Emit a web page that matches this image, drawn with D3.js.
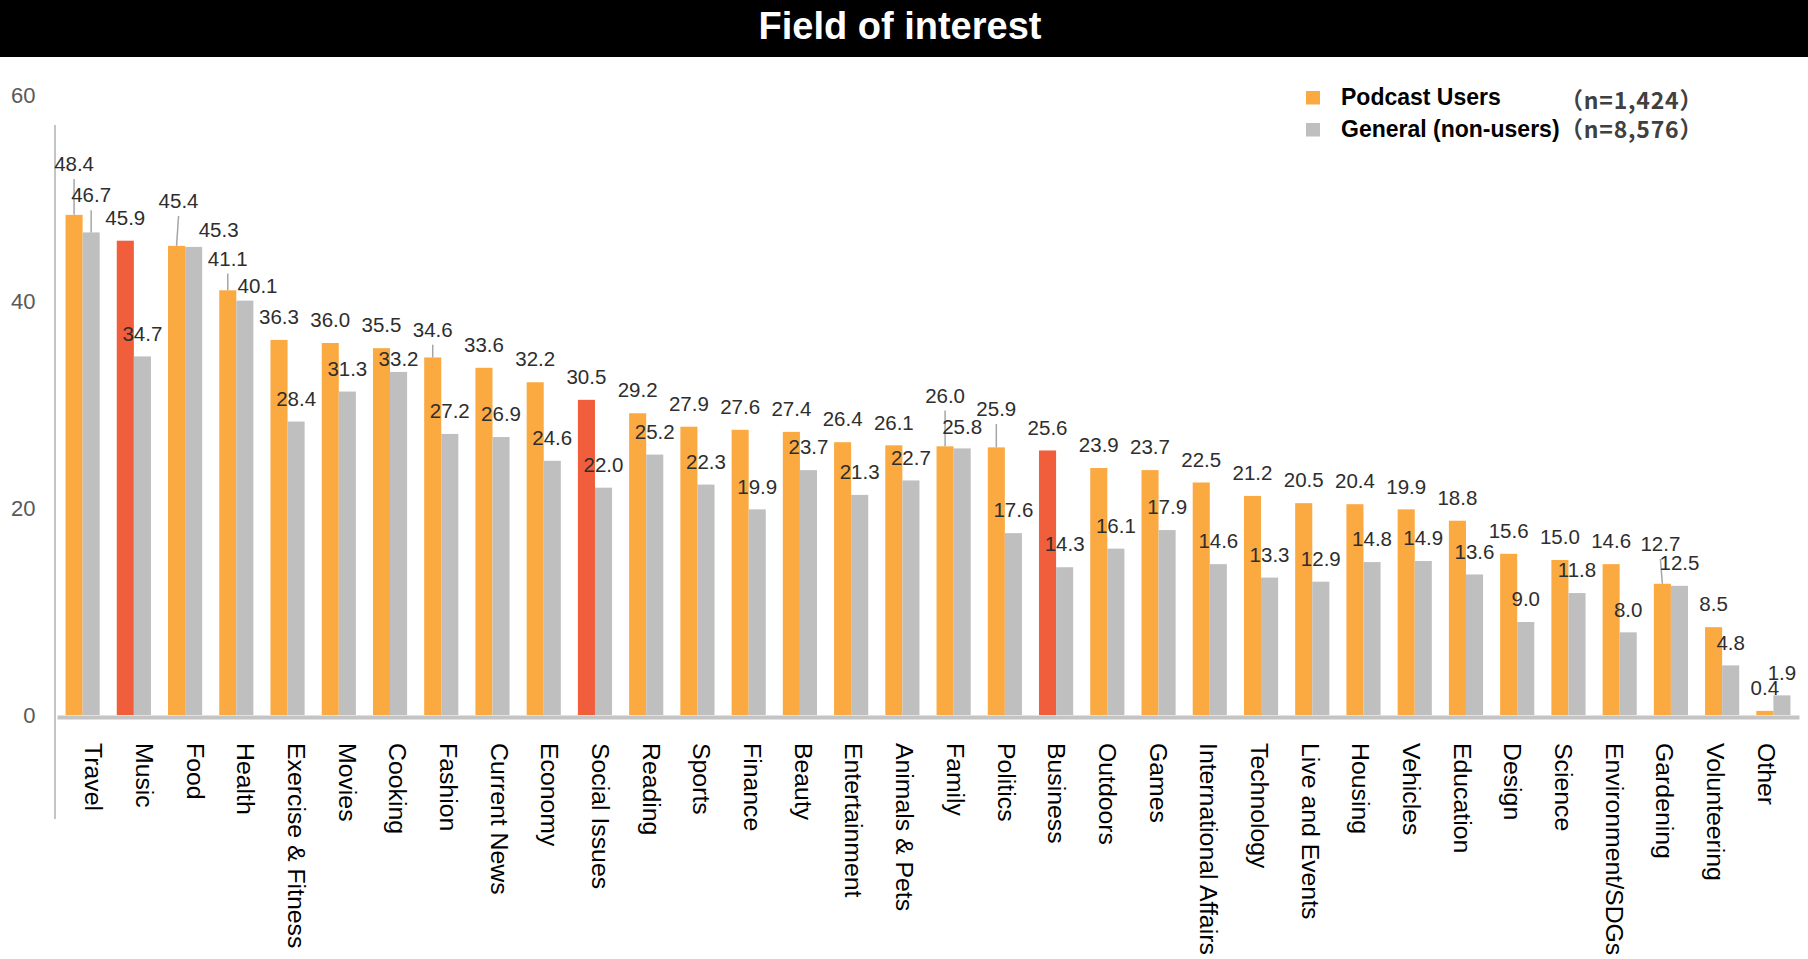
<!DOCTYPE html>
<html>
<head>
<meta charset="utf-8">
<script src="https://cdn.jsdelivr.net/npm/d3@7"></script>
<style>
  html, body { margin: 0; padding: 0; background: #fff; }
  svg { display: block; }
</style>
</head>
<body>
<svg id="chart" width="1808" height="959"></svg>
<script>
// ---------------- data ----------------
const title = "Field of interest";
const categories = ["Travel","Music","Food","Health","Exercise & Fitness","Movies","Cooking","Fashion","Current News","Economy","Social Issues","Reading","Sports","Finance","Beauty","Entertainment","Animals & Pets","Family","Politics","Business","Outdoors","Games","International Affairs","Technology","Live and Events","Housing","Vehicles","Education","Design","Science","Environment/SDGs","Gardening","Volunteering","Other"];
const podcastUsers = [48.4,45.9,45.4,41.1,36.3,36.0,35.5,34.6,33.6,32.2,30.5,29.2,27.9,27.6,27.4,26.4,26.1,26.0,25.9,25.6,23.9,23.7,22.5,21.2,20.5,20.4,19.9,18.8,15.6,15.0,14.6,12.7,8.5,0.4];
const generalUsers = [46.7,34.7,45.3,40.1,28.4,31.3,33.2,27.2,26.9,24.6,22.0,25.2,22.3,19.9,23.7,21.3,22.7,25.8,17.6,14.3,16.1,17.9,14.6,13.3,12.9,14.8,14.9,13.6,9.0,11.8,8.0,12.5,4.8,1.9];
const highlighted = ["Music","Social Issues","Business"];
const seriesNames = ["Podcast Users","General (non-users)"];
const sampleSizes = ["（n=1,424）","（n=8,576）"];
const yTicks = [0,20,40,60];

// label nudges in px: [dx, dy, leaderLine]
const podcastLabelNudge = {"Travel":[0,-28,true],"Food":[2,-22,true],"Health":[0,-9,true],"Fashion":[0,-5,true],"Family":[0,-28,true],"Politics":[0,-15.5,true],"Gardening":[-2,-17,true]};
const generalLabelNudge = {"Travel":[0,-14.5,true],"Food":[25,5.5,false],"Health":[12.7,8,false],"Cooking":[0,9.5,false],"Family":[0,1.5,false]};

// ---------------- styles ----------------
const C_ORANGE = "#FBAA42", C_RED = "#F05E3C", C_GRAY = "#BFBFBF";
const FONT = "'Liberation Sans', Arial, sans-serif";

const svg = d3.select("#chart");

// title bar
svg.append("rect").attr("x",0).attr("y",0).attr("width",1808).attr("height",57).attr("fill","#000");
svg.append("text").attr("x",900).attr("y",39).attr("text-anchor","middle")
  .attr("font-family",FONT).attr("font-weight","bold").attr("font-size",38).attr("fill","#fff").text(title);

// scales
const x = d3.scaleBand().domain(categories).range([57,1799]).paddingInner(1/3).paddingOuter(1/6);
const xs = d3.scaleBand().domain([0,1]).range([0,x.bandwidth()]);
const labelX = d3.scaleBand().domain(categories).range([69,1792]);
const y = d3.scaleLinear().domain([0,60]).range([715,95]);

// vertical axis line (decoration)
svg.append("line").attr("x1",55).attr("x2",55).attr("y1",125).attr("y2",819)
  .attr("stroke","#C4C4C4").attr("stroke-width",2);

// y axis labels
const yAxis = svg.append("g").attr("transform","translate(35.5,0)")
  .call(d3.axisLeft(y).tickValues(yTicks).tickSize(0).tickPadding(0));
yAxis.select(".domain").remove();
yAxis.selectAll("text").attr("font-family",FONT).attr("font-size",22).attr("fill","#595959");

// bars
const series = [podcastUsers, generalUsers];
const groups = svg.append("g").selectAll("g").data(categories).join("g")
  .attr("transform", d => `translate(${x(d)},0)`);
groups.selectAll("rect").data((d,i) => series.map((s,k) => ({cat:d, k, v:s[i]}))).join("rect")
  .attr("x", d => xs(d.k)).attr("width", xs.bandwidth())
  .attr("y", d => y(d.v)).attr("height", d => y(0) - y(d.v))
  .attr("fill", d => d.k === 1 ? C_GRAY : (highlighted.includes(d.cat) ? C_RED : C_ORANGE));

// baseline
const xAxis = svg.append("g").attr("transform",`translate(0,${y(0)+2})`)
  .call(d3.axisBottom(x).tickSize(0).tickSizeOuter(0).tickFormat(""));
xAxis.select(".domain").attr("stroke","#C4C4C4").attr("stroke-width",4);
xAxis.selectAll(".tick").remove();

// category labels
const catAxis = svg.append("g").attr("transform",`translate(0,${y(0)+2})`)
  .call(d3.axisBottom(labelX).tickSize(0));
catAxis.select(".domain").remove();
catAxis.selectAll("text")
  .attr("transform","rotate(90)")
  .attr("x",26).attr("y",9).attr("dy",null)
  .attr("text-anchor","start")
  .attr("font-family",FONT).attr("font-size",24.8).attr("fill","#000");

// data labels
const labelLayer = svg.append("g");
const bw = xs.bandwidth();
categories.forEach((c,i) => {
  [[podcastUsers, podcastLabelNudge],[generalUsers, generalLabelNudge]].forEach(([s,nudge],k) => {
    const v = s[i];
    const cx = x(c) + xs(k) + bw/2;
    const top = y(v);
    const n = nudge[c] || [0,0,false];
    const lx = cx + n[0], ly = top - 15.8 + n[1];
    if (n[2]) {
      labelLayer.append("line").attr("x1",lx).attr("y1",ly+8).attr("x2",cx).attr("y2",top)
        .attr("stroke","#A6A6A6").attr("stroke-width",1.5);
    }
    labelLayer.append("text").attr("x",lx).attr("y",ly).attr("text-anchor","middle")
      .attr("font-family",FONT).attr("font-size",20.5).attr("fill","#2E2E2E")
      .text(v.toFixed(1));
  });
});

// legend
const legend = svg.append("g");
const legColors = [C_ORANGE, C_GRAY];
const legRows = [{sq:91, base:105, nb:108.5},{sq:123, base:136.5, nb:138}];
seriesNames.forEach((name,k) => {
  legend.append("rect").attr("x",1306).attr("y",legRows[k].sq).attr("width",14).attr("height",13.5).attr("fill",legColors[k]);
  legend.append("text").attr("x",1341).attr("y",legRows[k].base)
    .attr("font-family",FONT).attr("font-weight","bold").attr("font-size",23).attr("fill","#000").text(name);
  legend.append("text").attr("x",1560).attr("y",legRows[k].nb)
    .attr("font-family","'Noto Sans CJK JP', sans-serif").attr("font-weight","bold").attr("font-size",23)
    .attr("letter-spacing",0.8).attr("fill","#404040").text(sampleSizes[k]);
});
</script>
</body>
</html>
